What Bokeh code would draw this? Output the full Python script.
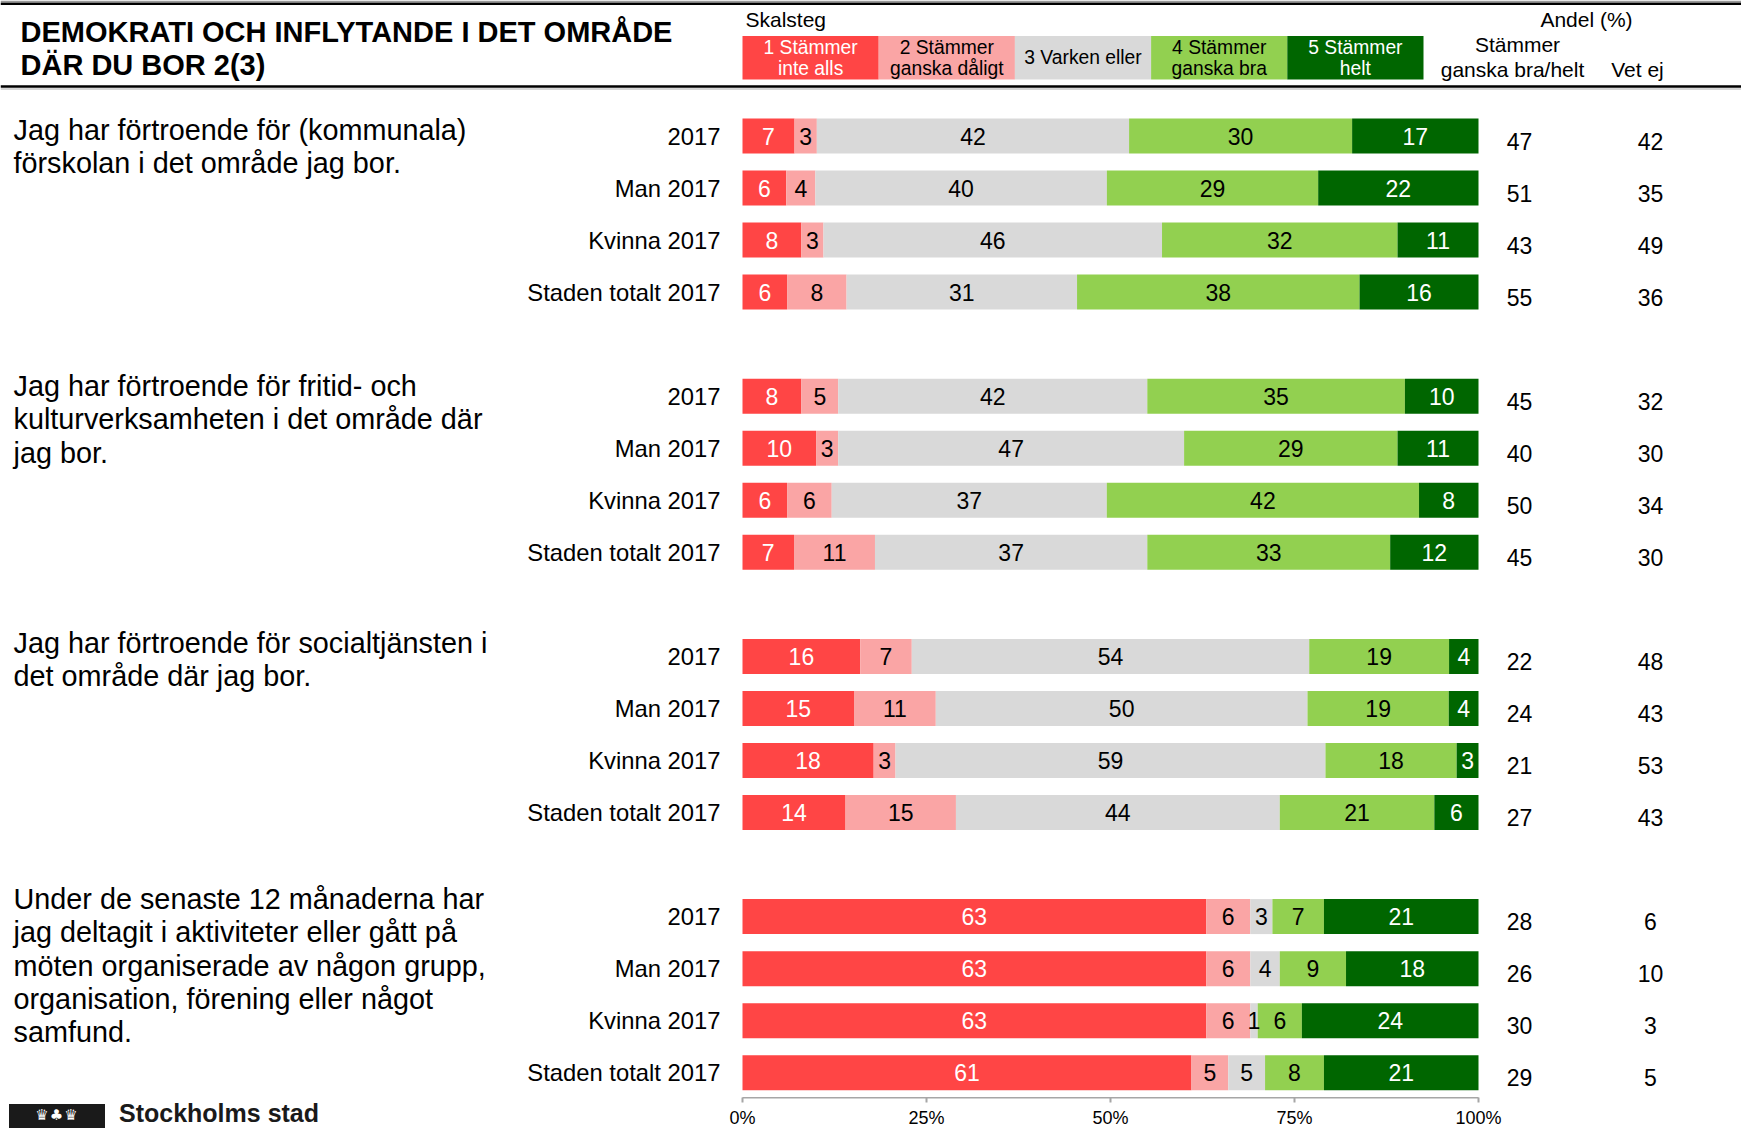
from bokeh.plotting import figure
from bokeh.layouts import column, row
from bokeh.models import (ColumnDataSource, Range1d, FixedTicker, PrintfTickFormatter, Span, Div)
from bokeh.embed import file_html
from bokeh.resources import INLINE
from bokeh.core.properties import value

# ---------------- data ----------------
TITLE_LINES = ["DEMOKRATI OCH INFLYTANDE I DET OMRÅDE", "DÄR DU BOR 2(3)"]
SCALE_HEADER = "Skalsteg"
SCALE_LABELS = [["1 Stämmer", "inte alls"], ["2 Stämmer", "ganska dåligt"], ["3 Varken eller"],
                ["4 Stämmer", "ganska bra"], ["5 Stämmer", "helt"]]
SHARE_HEADER = "Andel (%)"
AGREE_HEADER = ["Stämmer", "ganska bra/helt"]
VETEJ_HEADER = "Vet ej"
ROW_LABELS = ["2017", "Man 2017", "Kvinna 2017", "Staden totalt 2017"]
TICKS = [0, 25, 50, 75, 100]
LOGO_TEXT = "Stockholms stad"

Q1_TEXT = ["Jag har förtroende för (kommunala)", "förskolan i det område jag bor."]
Q1_VALUES = [[7, 3, 42, 30, 17], [6, 4, 40, 29, 22], [8, 3, 46, 32, 11], [6, 8, 31, 38, 16]]
Q1_AGREE = [47, 51, 43, 55]
Q1_VETEJ = [42, 35, 49, 36]

Q2_TEXT = ["Jag har förtroende för fritid- och", "kulturverksamheten i det område där", "jag bor."]
Q2_VALUES = [[8, 5, 42, 35, 10], [10, 3, 47, 29, 11], [6, 6, 37, 42, 8], [7, 11, 37, 33, 12]]
Q2_AGREE = [45, 40, 50, 45]
Q2_VETEJ = [32, 30, 34, 30]

Q3_TEXT = ["Jag har förtroende för socialtjänsten i", "det område där jag bor."]
Q3_VALUES = [[16, 7, 54, 19, 4], [15, 11, 50, 19, 4], [18, 3, 59, 18, 3], [14, 15, 44, 21, 6]]
Q3_AGREE = [22, 24, 21, 27]
Q3_VETEJ = [48, 43, 53, 43]

Q4_TEXT = ["Under de senaste 12 månaderna har", "jag deltagit i aktiviteter eller gått på",
           "möten organiserade av någon grupp,", "organisation, förening eller något", "samfund."]
Q4_VALUES = [[63, 6, 3, 7, 21], [63, 6, 4, 9, 18], [63, 6, 1, 6, 24], [61, 5, 5, 8, 21]]
Q4_AGREE = [28, 26, 30, 29]
Q4_VETEJ = [6, 10, 3, 5]

QUESTIONS = [Q1_TEXT, Q2_TEXT, Q3_TEXT, Q4_TEXT]
VALUES = [Q1_VALUES, Q2_VALUES, Q3_VALUES, Q4_VALUES]
AGREE = [Q1_AGREE, Q2_AGREE, Q3_AGREE, Q4_AGREE]
VETEJ = [Q1_VETEJ, Q2_VETEJ, Q3_VETEJ, Q4_VETEJ]

# ---------------- style / layout ----------------
COLORS = ["#FF4545", "#FAA5A5", "#D9D9D9", "#92D050", "#006600"]
TEXT_COLORS = ["white", "black", "black", "black", "white"]
FONT = "Liberation Sans"
W, H = 1741, 1128
MAIN_H = 1097
BOT_H = H - MAIN_H
PX0, PX100 = 742.0, 1478.0
PXU = (PX100 - PX0) / 100.0
AX_LEFT = 700


def fx(px):
    return (px - PX0) / PXU


ROW0, STEP = 135.5, 52.04
BAR_H = 35.0
Q_TOP, Q_STEP, Q_LINE = 129.0, 256.5, 33.3

p = figure(width=W, height=MAIN_H, x_range=Range1d(fx(0), fx(W)), y_range=Range1d(MAIN_H, 0),
           toolbar_location=None, output_backend="svg", x_axis_location=None, y_axis_location=None,
           min_border=0)
p.outline_line_color = None
p.xgrid.visible = False
p.ygrid.visible = False

# bars
bars = {k: [] for k in ["y", "left", "right", "color", "xc", "lab", "tcol"]}
rl = {"y": [], "t": []}
rv = {"y": [], "a": [], "v": []}
for g, rows in enumerate(VALUES):
    for r, vals in enumerate(rows):
        slot = g * 5 + r
        yc = ROW0 + STEP * slot
        tot = float(sum(vals))
        cum = 0.0
        for k, v in enumerate(vals):
            left = cum / tot * 100
            cum += v
            right = cum / tot * 100
            bars["y"].append(yc)
            bars["left"].append(left)
            bars["right"].append(right)
            bars["color"].append(COLORS[k])
            bars["xc"].append((left + right) / 2)
            bars["lab"].append(str(v))
            bars["tcol"].append(TEXT_COLORS[k])
        rl["y"].append(yc)
        rl["t"].append(ROW_LABELS[r])
        rv["y"].append(yc + 5)
        rv["a"].append(str(AGREE[g][r]))
        rv["v"].append(str(VETEJ[g][r]))

bsrc = ColumnDataSource(bars)
p.hbar(y="y", left="left", right="right", height=BAR_H, color="color", line_color=None, source=bsrc)
p.text(x="xc", y="y", text="lab", text_color="tcol", text_font=value(FONT), text_font_size="23px",
       text_align="center", text_baseline="middle", source=bsrc)

rsrc = ColumnDataSource(dict(x=[fx(720)] * len(rl["y"]), y=rl["y"], t=rl["t"]))
p.text(x="x", y="y", text="t", text_font=value(FONT), text_font_size="23.8px",
       text_align="right", text_baseline="middle", source=rsrc)

vsrc = ColumnDataSource(dict(xa=[fx(1519)] * len(rv["y"]), xv=[fx(1650)] * len(rv["y"]),
                             y=rv["y"], a=rv["a"], v=rv["v"]))
p.text(x="xa", y="y", text="a", text_font=value(FONT), text_font_size="23px",
       text_align="center", text_baseline="middle", source=vsrc)
p.text(x="xv", y="y", text="v", text_font=value(FONT), text_font_size="23px",
       text_align="center", text_baseline="middle", source=vsrc)

# question texts
qx, qy, qt = [], [], []
for g, lines in enumerate(QUESTIONS):
    for i, line in enumerate(lines):
        qx.append(fx(13))
        qy.append(Q_TOP + Q_STEP * g + Q_LINE * i)
        qt.append(line)
p.text(x=qx, y=qy, text=qt, text_font=value(FONT), text_font_size="28.8px",
       text_align="left", text_baseline="middle")

# title
p.text(x=[fx(20)] * 2, y=[31, 64], text=TITLE_LINES, text_font=value(FONT), text_font_size="29px",
       text_font_style="bold", text_align="left", text_baseline="middle")

# header lines
p.add_layout(Span(location=0.8, dimension="width", line_color="#9A9A9A", line_width=1.5))
p.add_layout(Span(location=3.2, dimension="width", line_color="black", line_width=2.5))
p.add_layout(Span(location=86, dimension="width", line_color="black", line_width=2.5))
p.add_layout(Span(location=88.5, dimension="width", line_color="#C8C8C8", line_width=1.5))

# legend boxes
BOX_W = 136.2
lb = {"l": [], "r": [], "c": []}
lt = {"x": [], "y": [], "t": [], "c": []}
for i, lines in enumerate(SCALE_LABELS):
    l = PX0 + BOX_W * i
    lb["l"].append(fx(l))
    lb["r"].append(fx(l + BOX_W))
    lb["c"].append(COLORS[i])
    ys = [46.6, 67.7] if len(lines) == 2 else [56.6]
    for line, yy in zip(lines, ys):
        lt["x"].append(fx(l + BOX_W / 2))
        lt["y"].append(yy)
        lt["t"].append(line)
        lt["c"].append(TEXT_COLORS[i])
p.quad(left=lb["l"], right=lb["r"], top=[35.5] * 5, bottom=[79] * 5, color=lb["c"], line_color=None)
p.text(x=lt["x"], y=lt["y"], text=lt["t"], text_color=lt["c"], text_font=value(FONT),
       text_font_size="19.3px", text_align="center", text_baseline="middle")

p.text(x=[fx(745)], y=[19], text=[SCALE_HEADER], text_font=value(FONT), text_font_size="21px",
       text_align="left", text_baseline="middle")
p.text(x=[fx(1586)], y=[19], text=[SHARE_HEADER], text_font=value(FONT), text_font_size="21px",
       text_align="center", text_baseline="middle")
p.text(x=[fx(1517), fx(1512)], y=[44, 69], text=AGREE_HEADER, text_font=value(FONT), text_font_size="21px",
       text_align="center", text_baseline="middle")
p.text(x=[fx(1637)], y=[69], text=[VETEJ_HEADER], text_font=value(FONT), text_font_size="21px",
       text_align="center", text_baseline="middle")

# ---------------- bottom strip: logo (left) + percent axis (right) ----------------
logo_html = (
    f'<div style="position:relative;width:{AX_LEFT}px;height:{BOT_H}px;overflow:hidden;background:white;">'
    f'<div style="position:absolute;left:9px;top:7px;width:96px;height:{BOT_H - 7}px;background:#1A1A1A;'
    "color:white;font-family:'DejaVu Sans';font-size:15px;letter-spacing:1px;text-align:center;"
    "line-height:22px;\">&#9819;&#9827;&#9819;</div>"
    '<div style="position:absolute;left:119px;top:2px;font-family:\'Liberation Sans\';font-weight:bold;'
    f'font-size:25px;line-height:28px;color:#1A1A1A;white-space:nowrap;">{LOGO_TEXT}</div>'
    '</div>'
)
logo = Div(text=logo_html, width=AX_LEFT, height=BOT_H, margin=(0, 0, 0, 0))

axw = W - AX_LEFT
axf = figure(width=axw, height=BOT_H, x_range=Range1d(fx(AX_LEFT), fx(W)), y_range=Range1d(0, 1),
             toolbar_location=None, output_backend="svg", y_axis_location=None,
             min_border=0, min_border_bottom=BOT_H - 1)
axf.outline_line_color = None
axf.xgrid.visible = False
axf.ygrid.visible = False
ax = axf.xaxis[0]
ax.ticker = FixedTicker(ticks=TICKS)
ax.formatter = PrintfTickFormatter(format="%d%%")
ax.bounds = (0, 100)
ax.axis_line_color = "#A6A6A6"
ax.axis_line_width = 2
ax.major_tick_line_color = "#A6A6A6"
ax.major_tick_line_width = 2
ax.major_tick_in = 0
ax.major_tick_out = 5
ax.minor_tick_line_color = None
ax.major_label_text_font = FONT
ax.major_label_text_font_size = "18px"
ax.major_label_text_color = "black"
ax.major_label_standoff = 5
axf.scatter(x=[50], y=[0.5], alpha=0)

layout = column(p, row(logo, axf, spacing=0), spacing=0)
open("out.html", "w").write(file_html(layout, INLINE))
